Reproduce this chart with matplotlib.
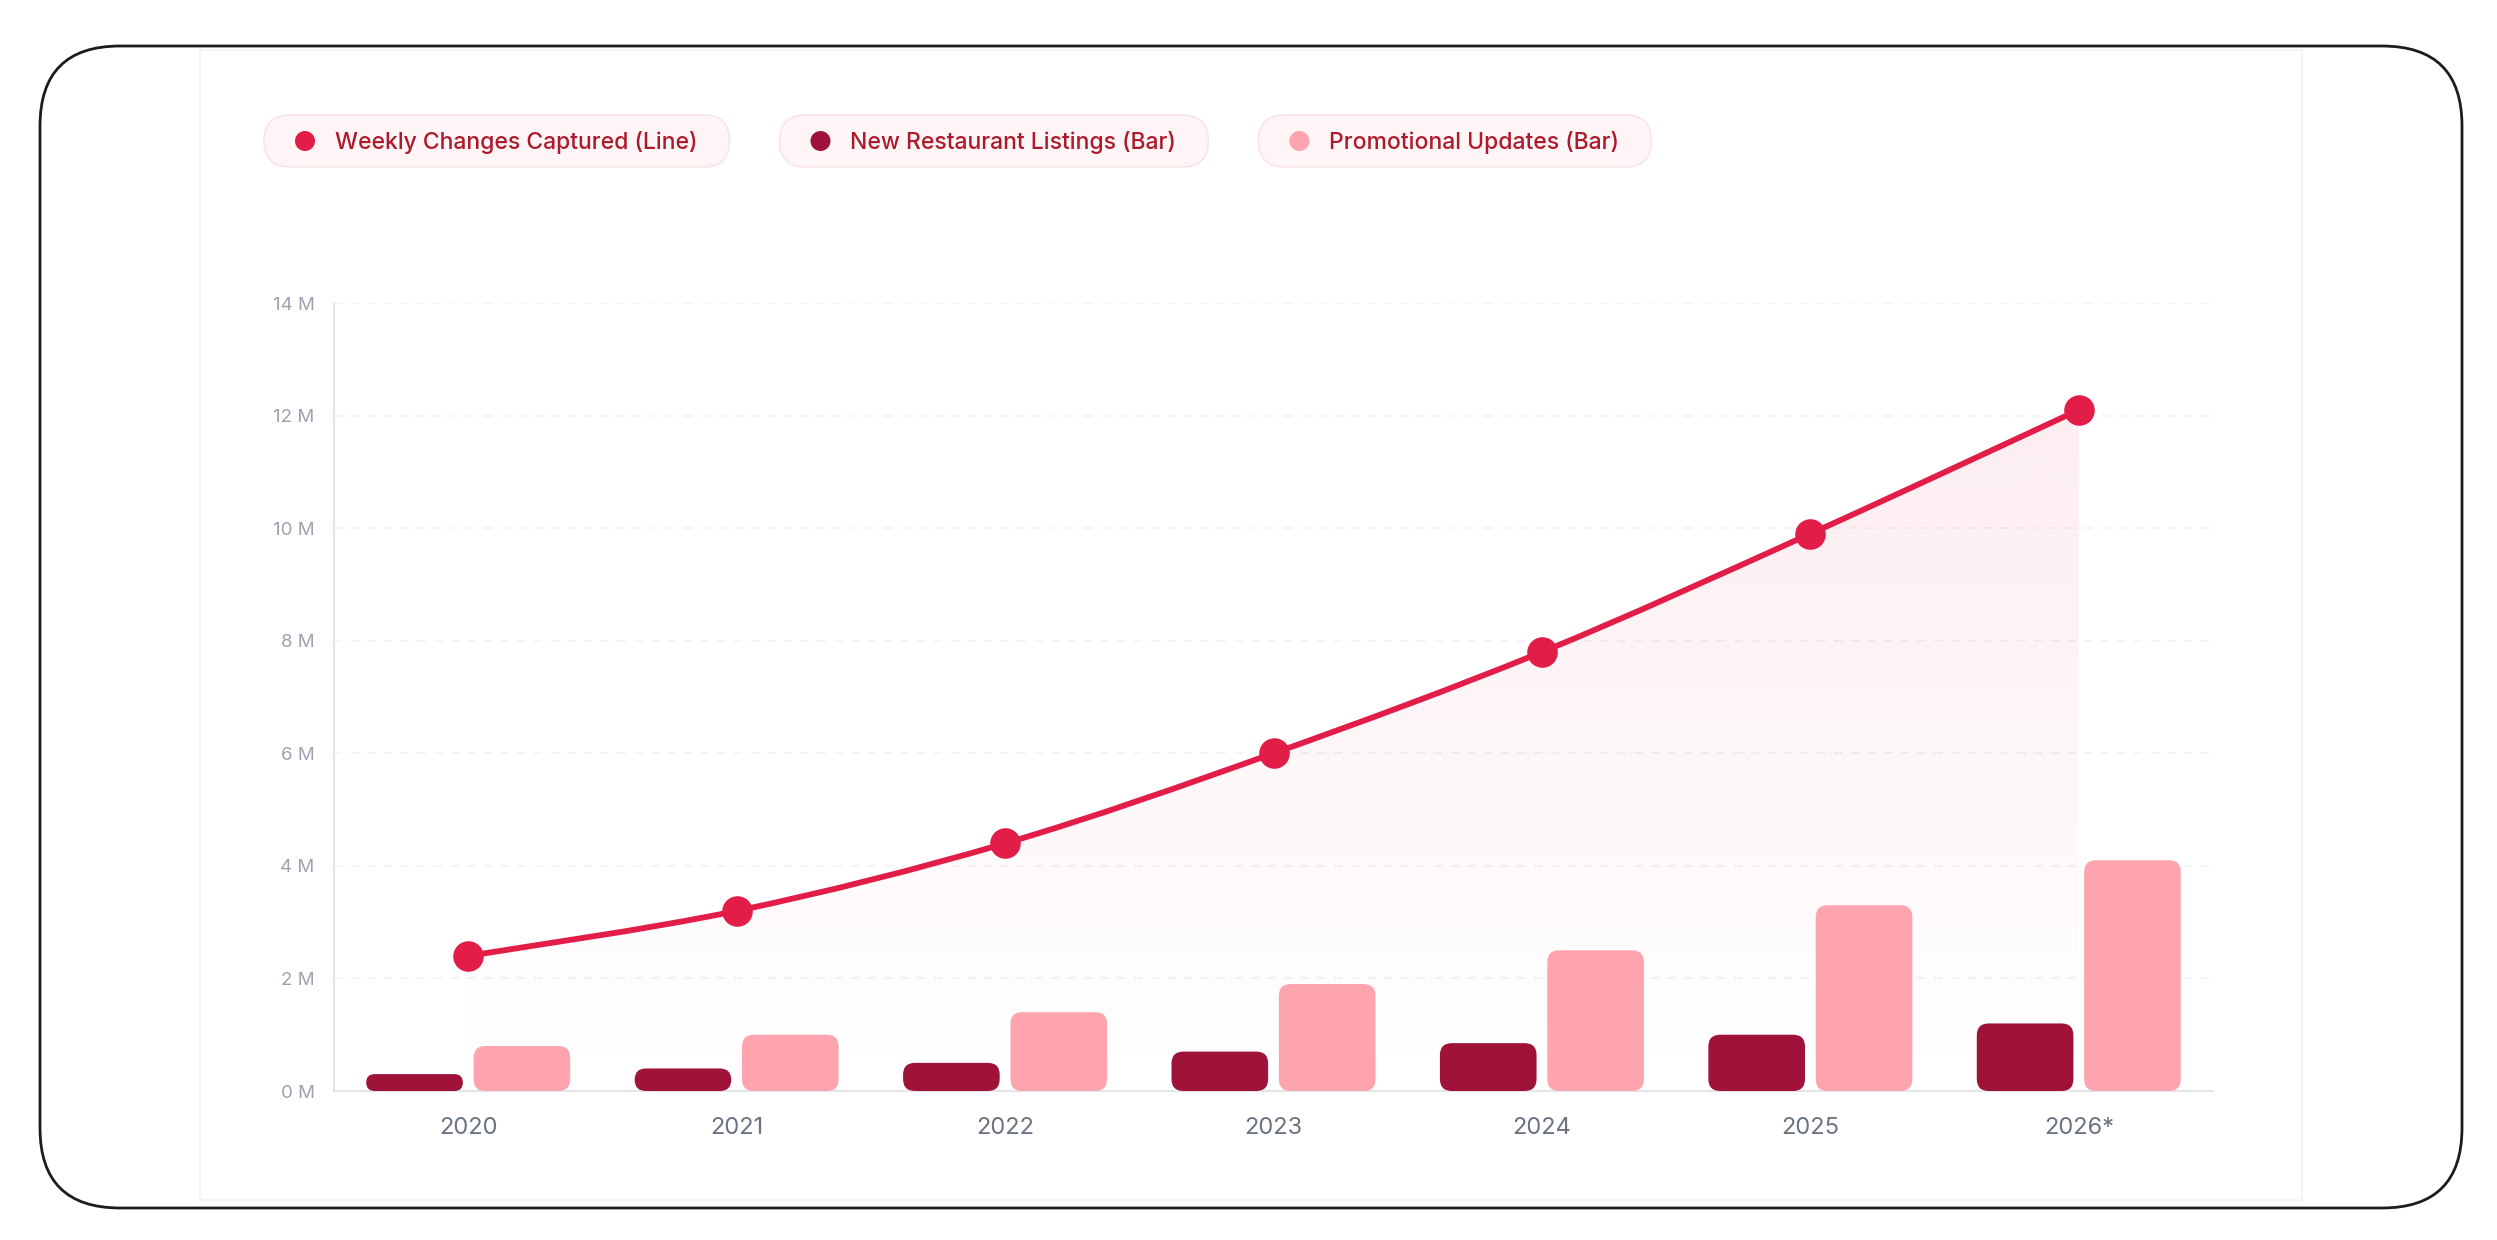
import numpy as np
import matplotlib.pyplot as plt
from matplotlib.patches import FancyBboxPatch, PathPatch, Circle, Rectangle
from matplotlib.path import Path


# ----------------------------------------------------------------------
# Data (values in millions)
# ----------------------------------------------------------------------
years = ["2020", "2021", "2022", "2023", "2024", "2025", "2026*"]
weekly_changes = [2.4, 3.2, 4.4, 6.0, 7.8, 9.9, 12.1]
new_listings = [0.3, 0.4, 0.5, 0.7, 0.85, 1.0, 1.2]
promo_updates = [0.8, 1.0, 1.4, 1.9, 2.5, 3.3, 4.1]
y_ticks = [0, 2, 4, 6, 8, 10, 12, 14]
legend_labels = [
    "Weekly Changes Captured (Line)",
    "New Restaurant Listings (Bar)",
    "Promotional Updates (Bar)",
]

LINE_C = "#e11d48"
DARK_C = "#9f1239"
PINK_C = "#fda4af"
LEGEND_TXT = "#ad1a2c"
FONT = ["Inter", "DejaVu Sans"]

W, H = 2497, 1240
plt.rcParams["font.family"] = FONT

fig = plt.figure(figsize=(W / 100, H / 100), dpi=100)

# background layer in pixel coordinates (y downwards)
bg = fig.add_axes([0, 0, 1, 1], zorder=0)
bg.set_xlim(0, W)
bg.set_ylim(H, 0)
bg.axis("off")

bg.add_patch(FancyBboxPatch(
    (40, 46), 2422, 1162,
    boxstyle="round,pad=0,rounding_size=80",
    fc="white", ec="#1c1c1c", lw=2.0
))
# faint inner card
bg.add_patch(Rectangle((200, 50), 2102, 1150, fc="none", ec="#f5f5f7", lw=1.5))

# ----------------------------------------------------------------------
# Legend pills
# ----------------------------------------------------------------------
renderer = fig.canvas.get_renderer()
pill_x = 264
pill_y, pill_h = 115, 52
for label, col in zip(legend_labels, [LINE_C, DARK_C, PINK_C]):
    txt = bg.text(pill_x + 71, pill_y + pill_h / 2 + 1, label,
                  fontsize=16.5, color=LEGEND_TXT, fontweight="medium",
                  va="center", ha="left", zorder=3)
    tw = txt.get_window_extent(renderer).width
    pw = 71 + tw + 32
    bg.add_patch(FancyBboxPatch(
        (pill_x, pill_y), pw, pill_h,
        boxstyle=f"round,pad=0,rounding_size={pill_h / 2}",
        fc="#fff5f6", ec="#fbe4e8", lw=1.2, zorder=2
    ))
    bg.add_patch(Circle((pill_x + 41, pill_y + pill_h / 2), 10, fc=col, ec="none", zorder=3))
    pill_x += pw + 50

# ----------------------------------------------------------------------
# Chart
# ----------------------------------------------------------------------
ax = fig.add_axes([334 / W, 1 - 1091 / H, (2213 - 334) / W, (1091 - 303) / H], zorder=1)
ax.patch.set_alpha(0)
x = np.arange(len(years))
ax.set_xlim(-0.5, len(years) - 0.5)
ax.set_ylim(0, 14)

# pixels per data unit
p0 = ax.transData.transform((0, 0))
p1 = ax.transData.transform((1, 1))
px_x, px_y = p1[0] - p0[0], p1[1] - p0[1]


def rounded_bar(xc, width, height, color, radius_px=12):
    w_px, h_px = width * px_x, height * px_y
    r_px = min(radius_px, w_px / 2, h_px / 2)
    ax.add_patch(FancyBboxPatch(
        (xc - width / 2, 0), width, height,
        boxstyle=f"round,pad=0,rounding_size={r_px / px_x}",
        mutation_aspect=px_x / px_y,
        fc=color, ec="none", zorder=3
    ))


bar_w = 0.36
for i in range(len(years)):
    rounded_bar(x[i] - 0.2, bar_w, new_listings[i], DARK_C)
    rounded_bar(x[i] + 0.2, bar_w, promo_updates[i], PINK_C)

# smooth line (cubic bezier through the points)
pts = np.column_stack([x, weekly_changes]).astype(float)
verts, codes = [pts[0]], [Path.MOVETO]
for i in range(len(pts) - 1):
    a = pts[max(i - 1, 0)]
    b = pts[i]
    c = pts[i + 1]
    d = pts[min(i + 2, len(pts) - 1)]
    verts += [b + (c - a) / 6, c - (d - b) / 6, c]
    codes += [Path.CURVE4] * 3

line_path = Path(verts, codes)
area_path = Path(
    [(pts[0, 0], 0)] + verts + [(pts[-1, 0], 0), (pts[0, 0], 0)],
    [Path.MOVETO, Path.LINETO] + codes[1:] + [Path.LINETO, Path.CLOSEPOLY]
)

# gradient fill under the line
grad = np.zeros((256, 1, 4))
grad[..., :3] = np.array([225, 29, 72]) / 255
grad[:, 0, 3] = np.linspace(0.08, 0.0, 256)
clip = PathPatch(area_path, fc="none", ec="none", transform=ax.transData)
ax.add_patch(clip)
im = ax.imshow(grad, extent=(x[0], x[-1], 0, max(weekly_changes)),
               aspect="auto", origin="upper", zorder=2)
im.set_clip_path(clip)

ax.add_patch(PathPatch(line_path, fc="none", ec=LINE_C, lw=4.2,
                       capstyle="round", joinstyle="round", zorder=4))
ax.plot(x, weekly_changes, "o", ms=21, color=LINE_C, mec=LINE_C, zorder=5)

# axes styling
ax.set_xticks(x)
ax.set_xticklabels(years)
ax.set_yticks(y_ticks)
ax.set_yticklabels([f"{v} M" for v in y_ticks])
ax.set_xlim(-0.5, len(years) - 0.5)
ax.set_ylim(0, 14)
ax.tick_params(axis="y", length=0, pad=14, labelsize=13.5, labelcolor="#9ca3af")
ax.tick_params(axis="x", length=0, pad=19, labelsize=17, labelcolor="#6b7280")
for side in ["top", "right"]:
    ax.spines[side].set_visible(False)
for side in ["left", "bottom"]:
    ax.spines[side].set_color("#e3e5e9")
    ax.spines[side].set_linewidth(1.5)
ax.yaxis.grid(True, color="#f1f2f4", linestyle=(0, (5, 5)), linewidth=1.2)
ax.set_axisbelow(True)

fig.savefig("out.png", dpi=100)
